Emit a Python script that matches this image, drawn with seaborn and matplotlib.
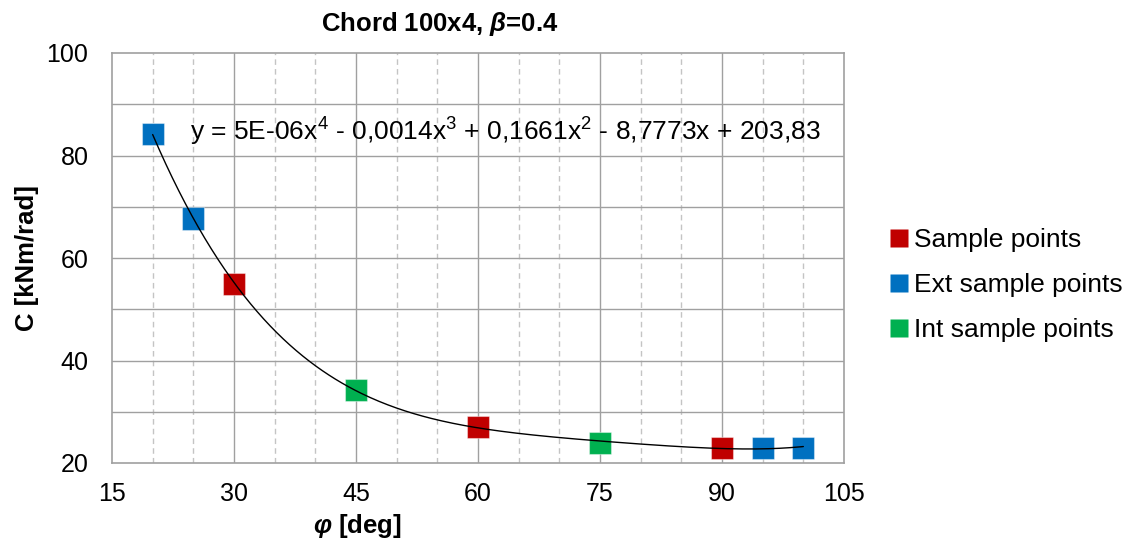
import numpy as np
import pandas as pd
import matplotlib
matplotlib.use("Agg")
import matplotlib.pyplot as plt
import seaborn as sns

# ---- data ----
phi = [30, 60, 90, 20, 25, 95, 100, 45, 75]
C = [55.0, 27.0, 23.0, 84.2, 67.7, 23.0, 23.0, 34.3, 23.9]
group = ["Sample points"] * 3 + ["Ext sample points"] * 4 + ["Int sample points"] * 2
group_order = ["Sample points", "Ext sample points", "Int sample points"]
group_colors = ["#C00000", "#0070C0", "#00B050"]
x_ticks = [15, 30, 45, 60, 75, 90, 105]
y_ticks = [20, 40, 60, 80, 100]
equation = "y = 5E-06x$^{4}$ - 0,0014x$^{3}$ + 0,1661x$^{2}$ - 8,7773x + 203,83"
title = "Chord 100x4, $\\beta$=0.4"

sns.set_style("white")
plt.rcParams['font.family'] = ['Liberation Sans', 'DejaVu Sans']
plt.rcParams['mathtext.fontset'] = 'custom'
plt.rcParams['mathtext.rm'] = 'Liberation Sans'
plt.rcParams['mathtext.it'] = 'Liberation Sans:italic:bold'
plt.rcParams['mathtext.bf'] = 'Liberation Sans:bold'
plt.rcParams['text.color'] = 'black'
plt.rcParams['axes.labelcolor'] = 'black'
plt.rcParams['xtick.color'] = 'black'
plt.rcParams['ytick.color'] = 'black'

df = pd.DataFrame({"phi": phi, "C": C, "group": group})

W, H = 1126, 541
fig = plt.figure(figsize=(W / 100, H / 100), dpi=100)
L, R, T, B = 112, 844, 53, 463
ax = fig.add_axes([L / W, 1 - B / H, (R - L) / W, (B - T) / H])

# gridlines
for xv in range(20, 105, 5):
    if xv % 15 == 0:
        ax.axvline(xv, color="#A0A0A0", lw=1.0, zorder=0)
    else:
        ax.axvline(xv, color="#C4C4C4", lw=1.0, ls=(0, (4, 3)), zorder=0)
for yv in range(30, 100, 10):
    ax.axhline(yv, color="#A0A0A0", lw=1.0, zorder=0)

# trendline: 4th order polynomial fitted to the points
coef = np.polyfit(df["phi"], df["C"], 4)
xs = np.linspace(min(phi), max(phi), 300)
trend = pd.DataFrame({"phi": xs, "C": np.polyval(coef, xs)})
sns.lineplot(data=trend, x="phi", y="C", ax=ax, color="black", lw=1.0, zorder=4, legend=False)

sns.scatterplot(data=df, x="phi", y="C", hue="group", hue_order=group_order,
                palette=group_colors, marker="s", s=255, edgecolor="#ffffff66",
                linewidth=0.8, ax=ax, zorder=3)

ax.set_xlim(15, 105)
ax.set_ylim(20, 100)
ax.set_xticks(x_ticks)
ax.set_yticks(y_ticks)
ax.tick_params(labelsize=18, length=0, labelcolor="black")
ax.tick_params(axis="y", pad=17)
ax.tick_params(axis="x", pad=14)
for s in ax.spines.values():
    s.set_color("#A0A0A0")
    s.set_linewidth(1.2)

ax.set_xlabel("$\\varphi$ [deg]", fontsize=18.5, fontweight="bold", color="black")
ax.xaxis.set_label_coords((357 - L) / (R - L), (B - 512) / (B - T))
ax.set_ylabel("C [kNm/rad]", fontsize=18.5, fontweight="bold", color="black")
ax.yaxis.set_label_coords((39 - L) / (R - L), 0.5)
fig.text(440 / W, 1 - 24 / H, title, fontsize=18.5, fontweight="bold",
         ha="center", va="center", color="black")

ax.text(24.6, 84.6, equation, fontsize=19, va="center", ha="left", color="black")

leg = ax.legend(loc="center left", bbox_to_anchor=((886 - L) / (R - L), (B - 285) / (B - T)),
                borderaxespad=0, borderpad=0, frameon=False,
                fontsize=19, handletextpad=0.05, labelspacing=0.8, markerscale=0.77,
                handlelength=1.0, labelcolor="black")
for h in leg.legend_handles:
    try:
        h.set_markeredgecolor("none")
    except AttributeError:
        h.set_edgecolor("none")

fig.savefig("out.png", dpi=100)
